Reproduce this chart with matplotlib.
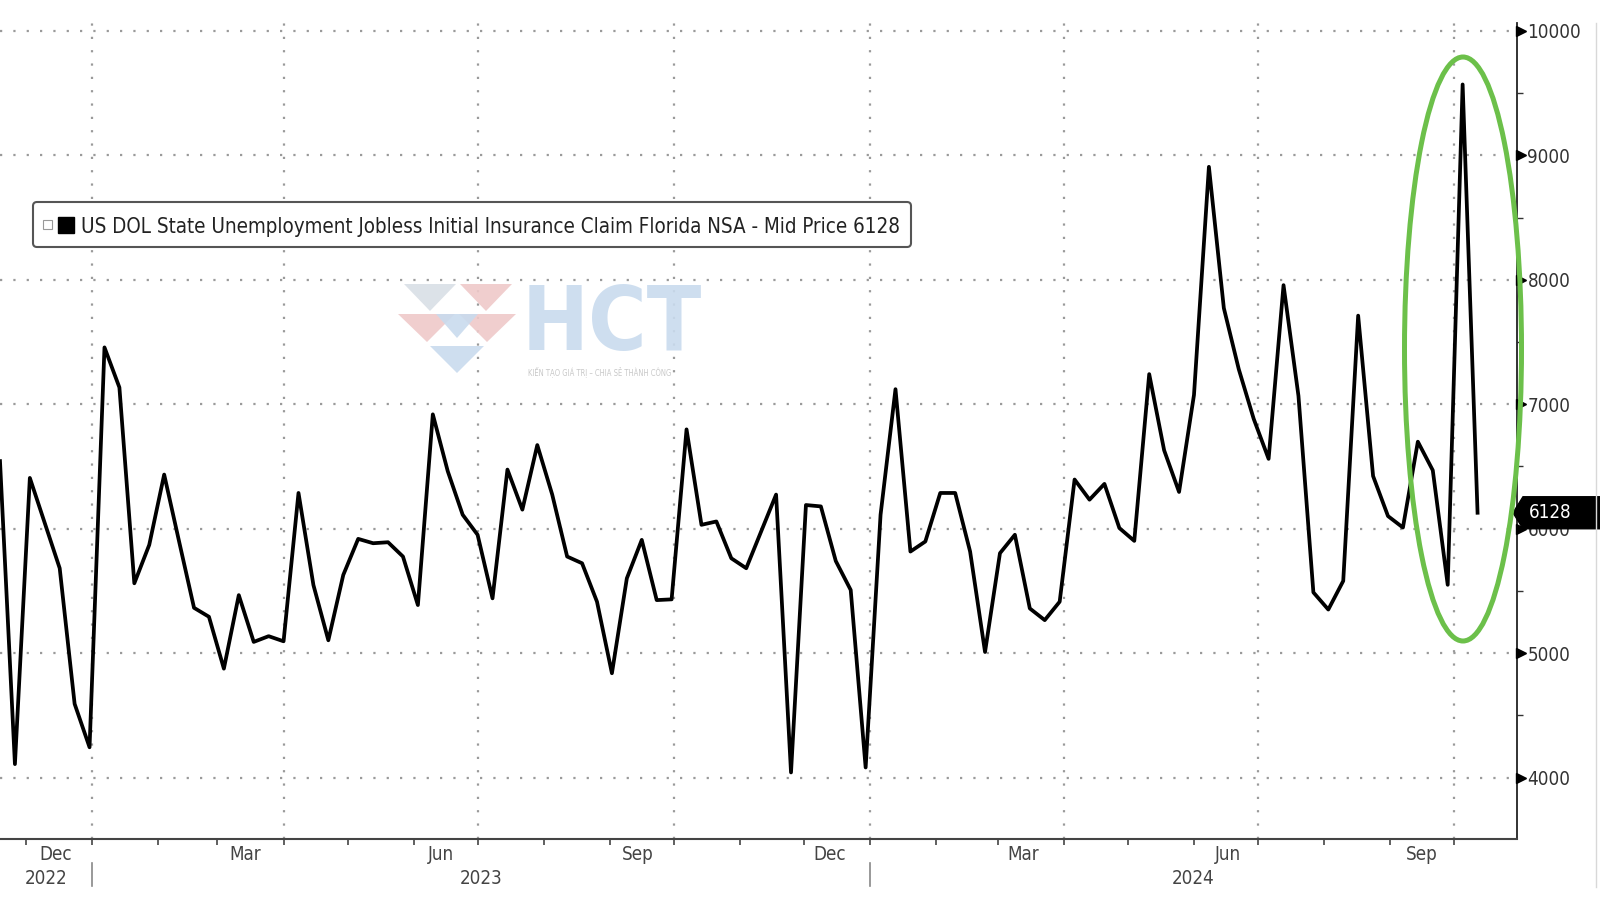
import matplotlib
matplotlib.use('Agg')
import matplotlib.pyplot as plt
import matplotlib.dates as mdates
import matplotlib.transforms as mtransforms
from matplotlib.patches import Ellipse, Polygon, FancyBboxPatch, Rectangle
from matplotlib.lines import Line2D
from matplotlib.ticker import NullFormatter
import pandas as pd

# weekly Florida initial claims (NSA), week ending Saturdays
claims = [
    6543, 4108, 6408, 6045, 5682, 4592, 4243, 7457, 7135, 5561,
    5870, 6435, 5897, 5364, 5292, 4875, 5466, 5090, 5136, 5095,
    6287, 5547, 5103, 5628, 5918, 5883, 5891, 5776, 5386, 6919,
    6462, 6112, 5951, 5440, 6475, 6153, 6672, 6274, 5776, 5722,
    5413, 4838, 5601, 5910, 5426, 5432, 6798, 6031, 6058, 5762,
    5682, 5978, 6274, 4041, 6190, 6179, 5740, 5507, 4081, 6112,
    7121, 5816, 5897, 6287, 6287, 5816, 5009, 5803, 5951, 5359,
    5265, 5413, 6395, 6233, 6360, 6005, 5902, 7242, 6630, 6295,
    7075, 8908, 7773, 7282, 6883, 6561, 7957, 7067, 5488, 5350,
    5580, 7712, 6423, 6101, 6009, 6699, 6469, 5549, 9570, 6128,
]
first_week = '2022-11-19'
dates = pd.date_range(first_week, periods=len(claims), freq='7D')

y_ticks = [4000, 5000, 6000, 7000, 8000, 9000, 10000]
y_minor = [4500, 5500, 6500, 7500, 8500, 9500]
month_labels = ['Dec', 'Mar', 'Jun', 'Sep', 'Dec', 'Mar', 'Jun', 'Sep']
month_label_dates = ['2022-12-15', '2023-03-14', '2023-06-14', '2023-09-14',
                     '2023-12-13', '2024-03-13', '2024-06-17', '2024-09-16']
year_labels = ['2022', '2023', '2024']
year_starts = ['2023-01-01', '2024-01-01']
legend_text = 'US DOL State Unemployment Jobless Initial Insurance Claim Florida NSA - Mid Price 6128'
last_label = '6128'

x_start = pd.Timestamp('2022-11-19')
x_end = pd.Timestamp('2024-10-30 12:00')

plt.rcParams['font.family'] = ['DejaVu Sans']
plt.rcParams['font.stretch'] = 'condensed'

W, H = 1600, 898
fig = plt.figure(figsize=(W / 100, H / 100), dpi=100)
ax = fig.add_axes([0, 59 / H, 1517 / W, 816 / H])


def inch(px, py):
    # pixel position measured from the top-left corner -> inches from bottom-left
    return px / 100, (H - py) / 100


ax.plot(dates, claims, color='black', lw=2.7, zorder=3)
ax.set_xlim(x_start, x_end)
ax.set_ylim(3506, 10064)

for s in ['left', 'top']:
    ax.spines[s].set_visible(False)
ax.spines['bottom'].set_color('#444444')
ax.spines['bottom'].set_linewidth(1.5)
ax.spines['right'].set_color('#222222')
ax.spines['right'].set_linewidth(1.3)

# x axis: quarter gridlines, monthly ticks, labels at mid month
ax.xaxis.set_major_locator(mdates.MonthLocator(bymonth=[1, 4, 7, 10]))
ax.xaxis.set_minor_locator(mdates.MonthLocator())
ax.xaxis.set_major_formatter(NullFormatter())
ax.tick_params(axis='x', which='both', direction='out', length=4, width=1.2, color='#444444')

# y axis on the right
ax.yaxis.tick_right()
ax.set_yticks(y_ticks)
ax.set_yticks(y_minor, minor=True)
ax.tick_params(axis='y', which='major', length=0, pad=7.5, labelsize=13.5, labelcolor='#333333')
ax.tick_params(axis='y', which='minor', length=4, width=1, color='#333333', direction='out')

tri_tf = mtransforms.blended_transform_factory(ax.transAxes, ax.transData) + \
    mtransforms.ScaledTranslation(4 / 100, 0, fig.dpi_scale_trans)
ax.plot([1] * len(y_ticks), y_ticks, ls='none', marker='>', ms=6.5, color='black',
        transform=tri_tf, clip_on=False, zorder=4)

ax.grid(True, which='major', axis='both', color='#9a9a9a', linestyle=(0, (1, 5)), linewidth=1.6)

for lab, d in zip(month_labels, month_label_dates):
    ax.annotate(lab, xy=(mdates.date2num(pd.Timestamp(d)), 0), xycoords=('data', 'axes fraction'),
                xytext=(0, -16), textcoords='offset pixels', ha='center', va='center',
                fontsize=13.5, color='#444444', annotation_clip=False)

edges = [x_start] + [pd.Timestamp(d) for d in year_starts] + [x_end]
for i, lab in enumerate(year_labels):
    mid = edges[i] + (edges[i + 1] - edges[i]) / 2
    ax.annotate(lab, xy=(mdates.date2num(mid), 0), xycoords=('data', 'axes fraction'),
                xytext=(0, -39), textcoords='offset pixels', ha='center', va='center',
                fontsize=13.5, color='#444444', annotation_clip=False)

sep_tf = mtransforms.blended_transform_factory(ax.transData, ax.transAxes)
for d in year_starts:
    xd = mdates.date2num(pd.Timestamp(d))
    ax.plot([xd, xd], [-24 / 816, -47 / 816], color='#888888', lw=1.2,
            transform=sep_tf, clip_on=False)

# last value tag
tag_tf = fig.dpi_scale_trans + mtransforms.ScaledTranslation(
    mdates.date2num(x_end), claims[-1], ax.transData)
ax.add_patch(Polygon([(-0.04, 0), (0.06, 0.16), (0.9, 0.16), (0.9, -0.16), (0.06, -0.16)],
                     closed=True, fc='black', ec='black', transform=tag_tf, clip_on=False, zorder=6))
ax.text(0.12, 0, last_label, transform=tag_tf, color='white', fontsize=13.5,
        ha='left', va='center', clip_on=False, zorder=7)

# legend box
fig.add_artist(FancyBboxPatch(inch(33, 247), 8.78, 0.45,
                              boxstyle='round,pad=0,rounding_size=0.04',
                              fc='white', ec='#555555', lw=1.5, transform=fig.dpi_scale_trans))
fig.add_artist(Rectangle(inch(43, 229), 0.09, 0.09, fc='white', ec='#999999', lw=0.8,
                         transform=fig.dpi_scale_trans))
fig.add_artist(Rectangle(inch(58, 233), 0.16, 0.16, fc='black', ec='black',
                         transform=fig.dpi_scale_trans))
fig.text(81 / W, 1 - 227 / H, legend_text, fontsize=14.8, color='#222222', ha='left', va='center')

# watermark
pink, blue, grey = '#efc9c9', '#c9dbee', '#d9dfe6'
logo = [
    ([(404, 284), (456, 284), (430, 311)], grey),
    ([(460, 284), (512, 284), (486, 311)], pink),
    ([(398, 314), (455, 314), (427, 342)], pink),
    ([(459, 314), (516, 314), (487, 342)], pink),
    ([(430, 346), (484, 346), (457, 373)], blue),
    ([(436, 314), (478, 314), (457, 338)], blue),
]
for pts, col in logo:
    fig.add_artist(Polygon([inch(px, py) for px, py in pts], closed=True, fc=col, ec='none',
                           transform=fig.dpi_scale_trans, alpha=0.9))
fig.text(522 / W, 1 - 350 / H, 'HCT', fontsize=64, fontweight='bold', color=blue,
         ha='left', va='baseline', alpha=0.9)
fig.text(528 / W, 1 - 372 / H, 'KIẾN TẠO GIÁ TRỊ – CHIA SẺ THÀNH CÔNG', fontsize=5.5,
         color='#c8c8c8', ha='left', va='center')

# highlight ellipse around the latest spike
fig.add_artist(Ellipse(inch(1463, 349), 1.17, 5.84, fill=False, ec='#6cc04a', lw=3.6,
                       transform=fig.dpi_scale_trans))

fig.add_artist(Line2D([15.96, 15.96], [(H - 887) / 100, (H - 23) / 100],
                      transform=fig.dpi_scale_trans, color='#d8d8d8', lw=1))

fig.savefig('out.png', dpi=100, facecolor='white')
